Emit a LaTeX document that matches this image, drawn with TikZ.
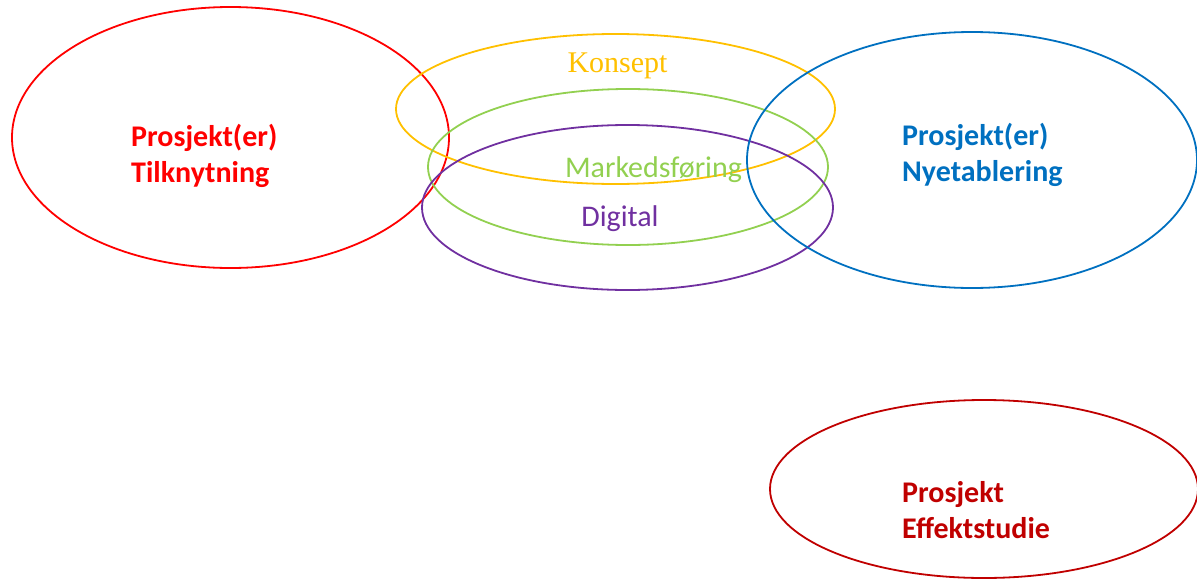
\documentclass[tikz,border=0pt]{standalone}
\usepackage{fontspec}
\setmainfont{Carlito}
\newfontfamily\serifk{Liberation Serif}
\usetikzlibrary{shapes.geometric}
\definecolor{cred}{HTML}{FF0000}
\definecolor{cyellow}{HTML}{FFC000}
\definecolor{cgreen}{HTML}{92D050}
\definecolor{cpurple}{HTML}{7030A0}
\definecolor{cblue}{HTML}{0070C0}
\definecolor{cdred}{HTML}{C00000}
\tikzset{
  ring/.style={ellipse, draw, line width=1.8pt, inner sep=0pt},
  bigtxt/.style={anchor=base west, align=left, inner sep=0pt, font=\fontsize{30}{36}\selectfont\bfseries},
  midtxt/.style={anchor=base, inner sep=0pt, font=\fontsize{30}{36}\selectfont}
}
\begin{document}
\begin{tikzpicture}[x=1pt,y=-1pt]
\useasboundingbox (0,0) rectangle (1197,581);
\node[ring, cred, minimum width=437pt, minimum height=261pt] (tilk) at (230.5,137.5) {};
\node[ring, cyellow, minimum width=439pt, minimum height=150pt] (kons) at (615.5,109) {};
\node[ring, cgreen, minimum width=400pt, minimum height=156pt] (mark) at (628,167) {};
\node[ring, cpurple, minimum width=411pt, minimum height=165pt] (digi) at (627.5,207.5) {};
\node[ring, cblue, minimum width=450pt, minimum height=256pt] (nyet) at (972,160) {};
\node[ring, cdred, minimum width=428pt, minimum height=178pt] (effe) at (984,489) {};

\node[bigtxt, text=cred] (ttilk) at (131,182.5) {Prosjekt(er)\\Tilknytning};
\node[bigtxt, text=cblue] (tnyet) at (902,181) {Prosjekt(er)\\Nyetablering};
\node[bigtxt, text=cdred] (teffe) at (902,538.5) {Prosjekt\\Effektstudie};
\node[midtxt, text=cyellow, font=\fontsize{30}{36}\selectfont\serifk] (tkons) at (617.5,72) {Konsept};
\node[midtxt, text=cgreen] (tmark) at (653.5,177) {Markedsføring};
\node[midtxt, text=cpurple] (tdigi) at (620,226) {Digital};
\end{tikzpicture}
\end{document}
